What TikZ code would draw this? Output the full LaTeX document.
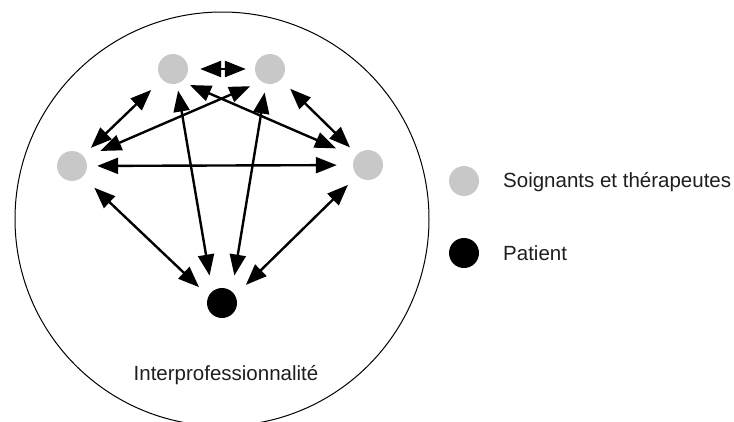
\documentclass[tikz,border=0pt]{standalone}
\usepackage{fontspec}
\setmainfont{Liberation Sans}
\usetikzlibrary{arrows.meta}
\definecolor{soignant}{RGB}{200,200,200}
\definecolor{inktext}{RGB}{30,30,30}

\begin{document}
\begin{tikzpicture}[x=1pt,y=-1pt,
    carerdot/.style={circle,fill=soignant,minimum size=30pt,inner sep=0pt},
    patientdot/.style={circle,fill=black,minimum size=30pt,inner sep=0pt},
    link/.style={<->,line width=2.4pt,shorten <=11pt,shorten >=11pt},
    lbl/.style={font=\fontsize{20.5}{24}\selectfont,text=inktext,inner sep=0pt},
    >={Triangle[length=21pt,width=16pt]}
]
\clip (0,0) rectangle (734,421);
\draw[line width=1pt] (222,219) circle[radius=207];

\node[carerdot] (tl) at (173,69) {};
\node[carerdot] (tr) at (270,69) {};
\node[carerdot] (l) at (72,166) {};
\node[carerdot] (r) at (368,165) {};
\node[patientdot] (pat) at (222,303) {};

\draw[link,shorten <=12pt,shorten >=9pt] (tl) -- (tr);
\draw[link,shorten <=15pt] (tl) -- (l);
\draw[link,shorten <=13pt,shorten >=10pt] (tr) -- (r);
\draw[link,shorten <=10pt,shorten >=16pt] (l) -- (r);
\draw[link,shorten <=9pt,shorten >=21pt] (tl.-55) -- (r.147);
\draw[link,shorten <=12pt,shorten >=17pt] (tr.-125) -- (l.33);
\draw[link,shorten <=7pt,shorten >=16pt] (tl.-75) -- (pat.130);
\draw[link,shorten <=9pt,shorten >=16pt] (tr.-105) -- (pat.50);
\draw[link,shorten <=16pt,shorten >=13pt] (l.-45) -- (pat.153);
\draw[link,shorten <=13pt,shorten >=15pt] (r.-135) -- (pat.30);

\node[lbl,anchor=base] (inter) at (226,380) {Interprofessionnalité};

\node[carerdot] (keycarer) at (464,181) {};
\node[patientdot] (keypat) at (464,253) {};
\node[lbl,anchor=base west] (keycarertxt) at (503,187) {Soignants et thérapeutes};
\node[lbl,anchor=base west] (keypattxt) at (503,260) {Patient};
\end{tikzpicture}
\end{document}
